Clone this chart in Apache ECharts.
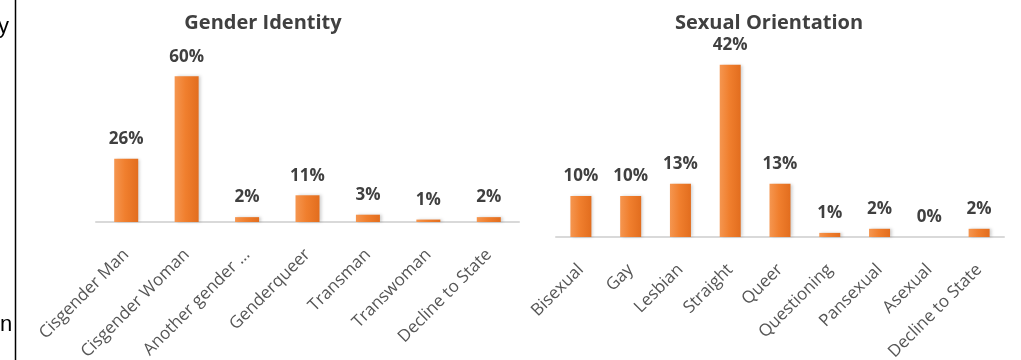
<!DOCTYPE html>
<html>
<head>
<meta charset="utf-8">
<script src="https://cdn.jsdelivr.net/npm/echarts@6/dist/echarts.min.js"></script>
<style>
  html, body { margin: 0; padding: 0; background: #fff; }
  #chart { width: 1021px; height: 360px; }
</style>
</head>
<body>
<div id="chart"></div>
<script>
// Survey demographics: percentage of respondents per group
const genderTitle = 'Gender Identity';
const genderCategories = ['Cisgender Man', 'Cisgender Woman', 'Another gender …', 'Genderqueer', 'Transman', 'Transwoman', 'Decline to State'];
const genderValues = [26, 60, 2, 11, 3, 1, 2];

const orientationTitle = 'Sexual Orientation';
const orientationCategories = ['Bisexual', 'Gay', 'Lesbian', 'Straight', 'Queer', 'Questioning', 'Pansexual', 'Asexual', 'Decline to State'];
const orientationValues = [10, 10, 13, 42, 13, 1, 2, 0, 2];

// Fragments of the surrounding page text at the left margin
const marginTexts = ['y', 'n'];

const FONT = '"Open Sans", "DejaVu Sans", sans-serif';

const barColor = new echarts.graphic.LinearGradient(0, 0, 1, 0, [
  { offset: 0, color: '#F59650' },
  { offset: 0.45, color: '#F07F2E' },
  { offset: 1, color: '#E26D1E' }
]);

function categoryAxis(gridIndex, data) {
  return {
    type: 'category',
    gridIndex: gridIndex,
    data: data,
    axisLine: { show: true, lineStyle: { color: '#D9D9D9', width: 2 } },
    axisTick: { show: false },
    axisLabel: {
      interval: 0,
      rotate: 45,
      margin: 30,
      color: '#555555',
      fontFamily: FONT,
      fontSize: 17
    }
  };
}

function valueAxis(gridIndex, max) {
  return {
    type: 'value',
    gridIndex: gridIndex,
    min: 0,
    max: max,
    show: false,
    splitLine: { show: false }
  };
}

function barSeries(index, values, barWidth) {
  return {
    type: 'bar',
    xAxisIndex: index,
    yAxisIndex: index,
    data: values,
    barWidth: barWidth,
    itemStyle: {
      color: barColor,
      shadowColor: 'rgba(0,0,0,0.18)',
      shadowBlur: 3,
      shadowOffsetX: 2,
      shadowOffsetY: 0
    },
    label: {
      show: true,
      position: 'top',
      distance: 11,
      formatter: '{c}%',
      color: '#404040',
      fontFamily: FONT,
      fontWeight: 'bold',
      fontSize: 17
    }
  };
}

const chart = echarts.init(document.getElementById('chart'), null, { renderer: 'canvas' });

chart.setOption({
  backgroundColor: '#ffffff',
  animation: false,
  title: [
    {
      text: genderTitle,
      left: 258, top: 8, textAlign: 'center',
      textStyle: { color: '#404040', fontFamily: FONT, fontWeight: 'bold', fontSize: 20 }
    },
    {
      text: orientationTitle,
      left: 764, top: 8, textAlign: 'center',
      textStyle: { color: '#404040', fontFamily: FONT, fontWeight: 'bold', fontSize: 20 }
    }
  ],
  grid: [
    { left: 96, width: 423, top: 52, bottom: 138, containLabel: false, outerBoundsMode: 'none' },
    { left: 556, width: 448, top: 32, bottom: 123, containLabel: false, outerBoundsMode: 'none' }
  ],
  xAxis: [categoryAxis(0, genderCategories), categoryAxis(1, orientationCategories)],
  yAxis: [valueAxis(0, 70), valueAxis(1, 50)],
  series: [barSeries(0, genderValues, 24), barSeries(1, orientationValues, 21)],
  graphic: [
    {
      type: 'line',
      shape: { x1: 15.5, y1: 0, x2: 15.5, y2: 360 },
      style: { stroke: '#000000', lineWidth: 1.5 }
    },
    {
      type: 'text',
      left: -2, top: 16,
      style: { text: marginTexts[0], fill: '#000000', font: '22px "Liberation Sans", sans-serif' }
    },
    {
      type: 'text',
      left: 0, top: 314,
      style: { text: marginTexts[1], fill: '#000000', font: '22px "Liberation Sans", sans-serif' }
    }
  ]
});
</script>
</body>
</html>
